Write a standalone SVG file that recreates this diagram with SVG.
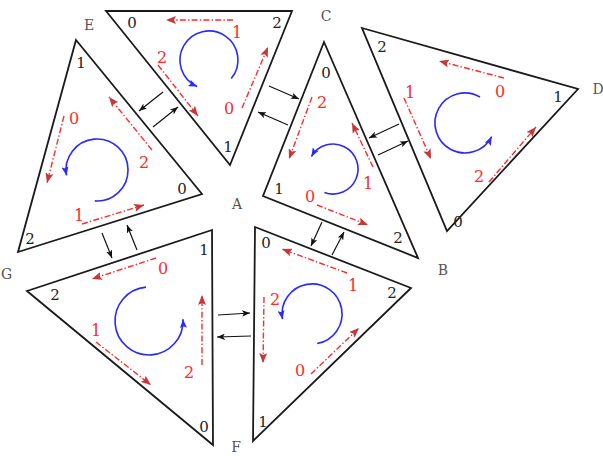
<svg xmlns="http://www.w3.org/2000/svg" width="603" height="456" viewBox="0 0 603 456">
<style>
.tri{fill:#fff;stroke:#1a1a1a;stroke-width:1.8;stroke-linejoin:miter}
.num{font-family:"DejaVu Serif",serif;font-size:15px;fill:#222;text-anchor:middle}
.rnum{font-family:"DejaVu Serif",serif;font-size:16px;fill:#ff2a2a;text-anchor:middle}
.let{font-family:"DejaVu Serif",serif;font-size:14px;fill:#555;text-anchor:middle}
.red{stroke:#ff2a2a;stroke-width:1.4;fill:none;stroke-dasharray:6,2.2,1.4,2.2;marker-end:url(#ar)}
.blue{stroke:#2a2aff;stroke-width:1.6;fill:none;marker-end:url(#ab)}
.con{stroke:#111;stroke-width:1.2;fill:none;marker-end:url(#ak)}
</style>
<defs>
<marker id="ar" viewBox="0 0 10 8" refX="10" refY="4" markerWidth="10" markerHeight="8" markerUnits="userSpaceOnUse" orient="auto"><path d="M0,0 L10,4 L0,8 L2,4 z" fill="#c83737"/></marker>
<marker id="ab" viewBox="0 0 10 8" refX="10" refY="4" markerWidth="9" markerHeight="7" markerUnits="userSpaceOnUse" orient="auto"><path d="M0,0 L10,4 L0,8 L2,4 z" fill="#2a2aff"/></marker>
<marker id="ak" viewBox="0 0 10 8" refX="10" refY="4" markerWidth="8" markerHeight="6.4" markerUnits="userSpaceOnUse" orient="auto"><path d="M0,0 L10,4 L0,8 L2.5,4 z" fill="#111"/></marker>
</defs>
<rect width="603" height="456" fill="#fff"/>

<g id="connectors">
<line class="con" x1="163" y1="92" x2="139" y2="111"/>
<line class="con" x1="153" y1="127" x2="178" y2="107"/>
<line class="con" x1="269" y1="86" x2="299" y2="99"/>
<line class="con" x1="288" y1="125" x2="258" y2="112"/>
<line class="con" x1="399" y1="124" x2="369" y2="138"/>
<line class="con" x1="378" y1="155" x2="408" y2="141"/>
<line class="con" x1="322" y1="222" x2="311" y2="246"/>
<line class="con" x1="332" y1="255" x2="344" y2="232"/>
<line class="con" x1="102" y1="233" x2="112" y2="258"/>
<line class="con" x1="137" y1="250" x2="127" y2="225"/>
<line class="con" x1="218" y1="315" x2="250" y2="313"/>
<line class="con" x1="251" y1="336" x2="217" y2="337"/>
</g>

<g id="tri-E">
<polygon class="tri" points="106,11 292,11 230,165"/>
<text class="num" x="132" y="28">0</text>
<text class="num" x="277" y="28">2</text>
<text class="num" x="228" y="152">1</text>
<line class="red" x1="233" y1="20" x2="166" y2="20"/>
<line class="red" x1="158" y1="65" x2="198" y2="116"/>
<line class="red" x1="242" y1="108" x2="268" y2="47"/>
<text class="rnum" x="237" y="38">1</text>
<text class="rnum" x="162" y="63">2</text>
<text class="rnum" x="229" y="114">0</text>
<path class="blue" d="M231.2,78.6 A29,29 0 1 0 197.2,86.5"/>
</g>

<g id="tri-G">
<polygon class="tri" points="76,40 202,194 18,252"/>
<text class="num" x="81" y="68">1</text>
<text class="num" x="182" y="194">0</text>
<text class="num" x="30" y="244">2</text>
<line class="red" x1="64" y1="116" x2="47" y2="183"/>
<line class="red" x1="152" y1="150" x2="109" y2="97"/>
<line class="red" x1="82" y1="224" x2="144" y2="205"/>
<text class="rnum" x="74" y="124">0</text>
<text class="rnum" x="144" y="168">2</text>
<text class="rnum" x="79" y="221">1</text>
<path class="blue" d="M94.8,200.9 A31,31 0 1 0 66.5,175.4"/>
</g>

<g id="tri-C">
<polygon class="tri" points="324,42 418,258 263,196"/>
<text class="num" x="326" y="78">0</text>
<text class="num" x="279" y="194">1</text>
<text class="num" x="398" y="243">2</text>
<line class="red" x1="312" y1="97" x2="289" y2="159"/>
<line class="red" x1="373" y1="167" x2="352" y2="123"/>
<line class="red" x1="317" y1="205" x2="368" y2="225"/>
<text class="rnum" x="322" y="108">2</text>
<text class="rnum" x="368" y="189">1</text>
<text class="rnum" x="310" y="202">0</text>
<path class="blue" d="M324.4,192.5 A25,25 0 1 0 311.4,156.5"/>
</g>

<g id="tri-D">
<polygon class="tri" points="362,28 578,89 447,231"/>
<text class="num" x="382" y="52">2</text>
<text class="num" x="558" y="102">1</text>
<text class="num" x="458" y="227">0</text>
<line class="red" x1="504" y1="78" x2="439" y2="61"/>
<line class="red" x1="404" y1="98" x2="431" y2="159"/>
<line class="red" x1="489" y1="182" x2="536" y2="127"/>
<text class="rnum" x="500" y="97">0</text>
<text class="rnum" x="410" y="98">1</text>
<text class="rnum" x="479" y="182">2</text>
<path class="blue" d="M480,97 A30,30 0 1 0 491.7,136.6"/>
</g>

<g id="tri-G2">
<polygon class="tri" points="212,230 27,291 213,445"/>
<text class="num" x="204" y="255">1</text>
<text class="num" x="55" y="300">2</text>
<text class="num" x="204" y="432">0</text>
<line class="red" x1="156" y1="258" x2="92" y2="279"/>
<line class="red" x1="96" y1="342" x2="151" y2="385"/>
<line class="red" x1="202" y1="365" x2="202" y2="295"/>
<text class="rnum" x="163" y="274">0</text>
<text class="rnum" x="96" y="336">1</text>
<text class="rnum" x="189" y="378">2</text>
<path class="blue" d="M146,287.1 A34,34 0 1 0 183,319.2"/>
</g>

<g id="tri-F">
<polygon class="tri" points="255,227 411,288 253,441"/>
<text class="num" x="266" y="248">0</text>
<text class="num" x="392" y="298">2</text>
<text class="num" x="263" y="427">1</text>
<line class="red" x1="347" y1="273" x2="282" y2="249"/>
<line class="red" x1="264" y1="297" x2="263" y2="363"/>
<line class="red" x1="311" y1="374" x2="359" y2="328"/>
<text class="rnum" x="353" y="291">1</text>
<text class="rnum" x="275" y="305">2</text>
<text class="rnum" x="300" y="376">0</text>
<path class="blue" d="M317.2,343.5 A30,30 0 1 0 282.5,319.2"/>
</g>

<g id="labels">
<text class="let" x="237" y="209">A</text>
<text class="let" x="443" y="275">B</text>
<text class="let" x="326" y="21">C</text>
<text class="let" x="598" y="94">D</text>
<text class="let" x="89" y="30">E</text>
<text class="let" x="236" y="452">F</text>
<text class="let" x="1" y="279" style="text-anchor:start">G</text>
</g>
</svg>
